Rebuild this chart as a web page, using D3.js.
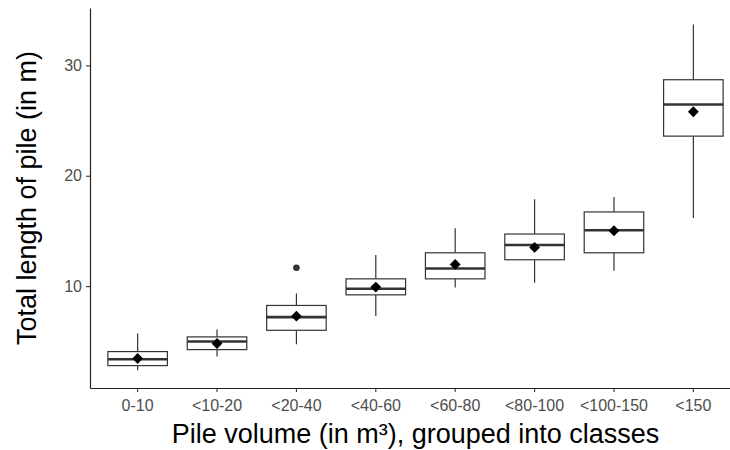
<!DOCTYPE html>
<html>
<head>
<meta charset="utf-8">
<script src="https://cdn.jsdelivr.net/npm/d3@7"></script>
<style>
  body { margin: 0; background: #fff; }
  svg { display: block; font-family: "Liberation Sans", Arial, sans-serif; }
</style>
</head>
<body>
<div id="chart"></div>
<script>
// volume classes and box stats
const classes = ['0-10', '<10-20', '<20-40', '<40-60', '<60-80', '<80-100', '<100-150', '<150'];
const lowWhisker = [2.37, 3.62, 4.73, 7.30, 9.88, 10.30, 11.39, 16.17];
const q1 = [2.80, 4.25, 6.00, 9.21, 10.66, 12.39, 13.02, 23.59];
const median = [3.37, 4.98, 7.19, 9.76, 11.60, 13.72, 15.06, 26.46];
const q3 = [4.07, 5.40, 8.25, 10.66, 13.02, 14.72, 16.72, 28.70];
const highWhisker = [5.70, 6.07, 9.34, 12.81, 15.24, 17.87, 18.08, 33.70];
const means = [3.44, 4.80, 7.28, 9.91, 11.97, 13.51, 15.02, 25.80];
const outliers = [{ cls: '<20-40', value: 11.66 }];
const yTicks = [10, 20, 30];

const width = 730, height = 450;
const margin = { top: 8, right: -11, bottom: 62, left: 90 };

const svg = d3.select('#chart').append('svg')
	.attr('width', width)
	.attr('height', height);

const boxes = classes.map((c, i) => ({
	cls: c,
	lo: lowWhisker[i], q1: q1[i], med: median[i], q3: q3[i], hi: highWhisker[i], mean: means[i]
}));

// ggplot style: 0.6 units of expansion each side
const x = d3.scaleBand()
	.domain(classes)
	.range([margin.left, width - margin.right])
	.paddingOuter(0.1)
	.paddingInner(0);

const y = d3.scaleLinear()
	.domain([0.77, 35.2])
	.range([height - margin.bottom, margin.top]);

const bw = x.bandwidth() * 0.75;
const cx = d => x(d) + x.bandwidth() / 2;

const g = svg.append('g');

// whiskers
g.selectAll('line.whiskHi').data(boxes).enter().append('line')
	.attr('x1', d => cx(d.cls)).attr('x2', d => cx(d.cls))
	.attr('y1', d => y(d.q3)).attr('y2', d => y(d.hi))
	.attr('stroke', '#333').attr('stroke-width', 1.2);
g.selectAll('line.whiskLo').data(boxes).enter().append('line')
	.attr('x1', d => cx(d.cls)).attr('x2', d => cx(d.cls))
	.attr('y1', d => y(d.q1)).attr('y2', d => y(d.lo))
	.attr('stroke', '#333').attr('stroke-width', 1.2);

// boxes
g.selectAll('rect.box').data(boxes).enter().append('rect')
	.attr('x', d => cx(d.cls) - bw / 2)
	.attr('width', bw)
	.attr('y', d => y(d.q3))
	.attr('height', d => y(d.q1) - y(d.q3))
	.attr('fill', '#fff')
	.attr('stroke', '#333')
	.attr('stroke-width', 1.2);

// medians
g.selectAll('line.med').data(boxes).enter().append('line')
	.attr('x1', d => cx(d.cls) - bw / 2).attr('x2', d => cx(d.cls) + bw / 2)
	.attr('y1', d => y(d.med)).attr('y2', d => y(d.med))
	.attr('stroke', '#333').attr('stroke-width', 2.6);

// outliers
g.selectAll('circle.out').data(outliers).enter().append('circle')
	.attr('cx', d => cx(d.cls)).attr('cy', d => y(d.value))
	.attr('r', 3.3).attr('fill', '#333');

// means as diamonds
g.selectAll('path.mean').data(boxes).enter().append('path')
	.attr('d', d3.symbol().type(d3.symbolDiamond2).size(75))
	.attr('transform', d => `translate(${cx(d.cls)},${y(d.mean)})`)
	.attr('fill', '#000');

// axes
const xAxis = svg.append('g')
	.attr('transform', `translate(0,${height - margin.bottom})`)
	.call(d3.axisBottom(x).tickSize(4).tickPadding(5).tickSizeOuter(0));
const yAxis = svg.append('g')
	.attr('transform', `translate(${margin.left},0)`)
	.call(d3.axisLeft(y).tickValues(yTicks).tickSize(4).tickPadding(4).tickSizeOuter(0));

[xAxis, yAxis].forEach(a => {
	a.select('.domain').attr('stroke', '#222').attr('stroke-width', 1.2);
	a.selectAll('.tick line').attr('stroke', '#333').attr('stroke-width', 1.1);
	a.selectAll('.tick text').attr('fill', '#4d4d4d').style('font-size', '16px');
});
xAxis.selectAll('.tick text').attr('dy', '0.9em');

// axis titles
svg.append('text')
	.attr('x', (margin.left + width - margin.right) / 2)
	.attr('y', 443)
	.attr('text-anchor', 'middle')
	.style('font-size', '27px')
	.attr('fill', '#000')
	.text('Pile volume (in m³), grouped into classes');

svg.append('text')
	.attr('transform', `translate(36,${(margin.top + height - margin.bottom) / 2}) rotate(-90)`)
	.attr('text-anchor', 'middle')
	.style('font-size', '27px')
	.attr('fill', '#000')
	.text('Total length of pile (in m)');
</script>
</body>
</html>
